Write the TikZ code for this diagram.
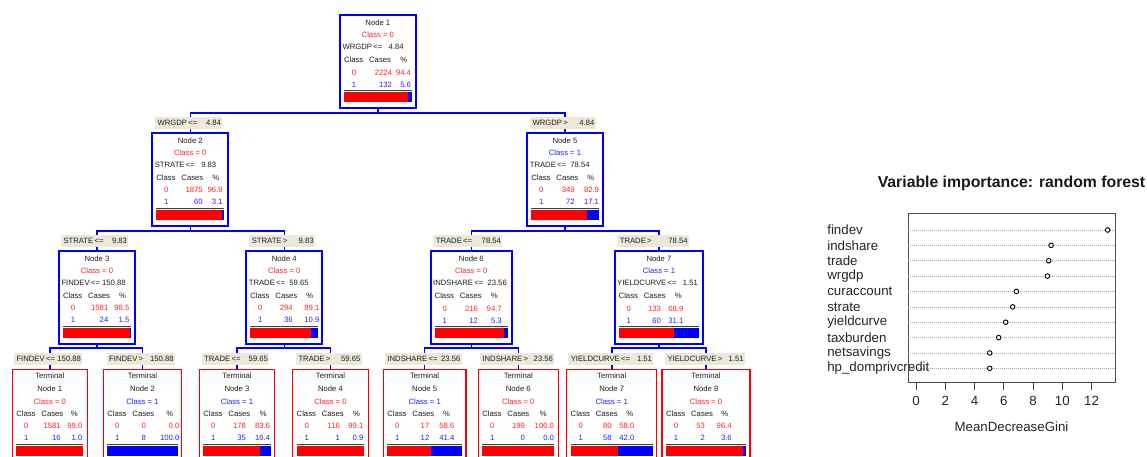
\documentclass[tikz,border=0pt]{standalone}
\usepackage{fontspec}
\setmainfont{Liberation Sans}
\usetikzlibrary{calc}
\definecolor{tred}{RGB}{255,35,35}
\definecolor{tblue}{RGB}{35,35,255}
\definecolor{lblbg}{RGB}{236,233,216}
\definecolor{ink}{RGB}{30,30,30}
\tikzset{
  tx/.style={inner sep=0pt, outer sep=0pt, font=\fontsize{7.7}{9}\selectfont, text=ink},
  ibox/.style={draw=blue, line width=1.8pt, fill=white, anchor=north west, minimum height=93pt, inner sep=0pt, outer sep=0pt},
  tbox/.style={draw=red, line width=1.2pt, fill=white, anchor=north west, minimum height=100pt, inner sep=0pt, outer sep=0pt},
  lblbox/.style={fill=lblbg, anchor=north west, minimum height=12pt, inner sep=0pt, outer sep=0pt},
  conn/.style={draw=blue, line width=1.6pt},
  sepline/.style={draw=black!75, line width=0.9pt},
  big/.style={inner sep=0pt, outer sep=0pt, font=\fontsize{13.3}{15}\selectfont, text=black!85},
  gridl/.style={draw=black!35, line width=0.5pt, dash pattern=on 0.8pt off 1.2pt},
  dotmark/.style={circle, draw=black, fill=white, line width=0.9pt, minimum size=4.6pt, inner sep=0pt},
  axisl/.style={draw=black!75, line width=0.8pt},
}
\newcommand\clsline[2]{%
  \ifnum#2=0 \def\cc{tred}\else\def\cc{tblue}\fi
  \node[tx,text=\cc] (\curnode-cls) at ([shift={(0,#1)}]\curnode.north) {Class = #2};}
\newcommand\inode[7]{%
  \node[ibox,minimum width=#4pt] (#1) at (#2,#3) {};
  \def\curnode{#1}\def\hy{45.2}%
  \node[tx] (#1-no) at ([shift={(0,7.8)}]#1.north) {Node #5};
  \clsline{19.8}{#6}%
  \node[tx,anchor=west] (#1-sp) at ([shift={(2.5,32.3)}]#1.north west) {#7};}
\newcommand\tnode[6]{%
  \node[tbox,minimum width=#4pt] (#1) at (#2,#3) {};
  \def\curnode{#1}\def\hy{44.2}%
  \node[tx] (#1-term) at ([shift={(0,6.9)}]#1.north) {Terminal};
  \node[tx] (#1-no) at ([shift={(0,19.6)}]#1.north) {Node #5};
  \clsline{32.3}{#6}}
\newcommand\ctable[8]{%
  \node[tx,anchor=west] (\curnode-hc) at ([shift={(4,\hy)}]\curnode.north west) {Class};
  \node[tx,anchor=east] (\curnode-hn) at ([shift={(51,\hy)}]\curnode.north west) {Cases};
  \node[tx,anchor=east] (\curnode-hp) at ([shift={(#3,\hy)}]\curnode.north west) {\%};
  \node[tx,text=tred] (\curnode-a0) at ([shift={(14,\hy+12.2)}]\curnode.north west) {0};
  \node[tx,text=tred,anchor=east] (\curnode-b0) at ([shift={(#1,\hy+12.2)}]\curnode.north west) {#4};
  \node[tx,text=tred,anchor=east] (\curnode-c0) at ([shift={(#2,\hy+12.2)}]\curnode.north west) {#5};
  \node[tx,text=tblue] (\curnode-a1) at ([shift={(14,\hy+24.2)}]\curnode.north west) {1};
  \node[tx,text=tblue,anchor=east] (\curnode-b1) at ([shift={(#1,\hy+24.2)}]\curnode.north west) {#6};
  \node[tx,text=tblue,anchor=east] (\curnode-c1) at ([shift={(#2,\hy+24.2)}]\curnode.north west) {#7};
  \draw[sepline] ([shift={(4,\hy+30.6)}]\curnode.north west) -- ([shift={(-4,\hy+30.6)}]\curnode.north east);
  \fill[blue] ([shift={(4,\hy+32)}]\curnode.north west) rectangle ([shift={(-4,\hy+42)}]\curnode.north east);
  \fill[red] ([shift={(4,\hy+32)}]\curnode.north west) rectangle ($([shift={(4,\hy+42)}]\curnode.north west)!#8!([shift={(-4,\hy+42)}]\curnode.north east)$);
}
\newcommand\splitlbl[6]{%
  \node[lblbox,minimum width=#4pt] (#1) at (#2,#3) {};
  \node[tx,anchor=west] (#1-v) at ([xshift=2.5pt]#1.west) {#5};
  \node[tx,anchor=east] (#1-n) at ([xshift=-1.3pt]#1.east) {#6};}
\begin{document}
\begin{tikzpicture}[x=1pt,y=-1pt]
\useasboundingbox (0,0) rectangle (1147,457);
\clip (0,0) rectangle (1147,457);
\fill[white] (0,0) rectangle (1147,457);
% ---------------- internal nodes
\inode{n1}{340}{15}{75.7}{1}{0}{WRGDP\,<=~~~4.84}
\ctable{52}{71}{67.3}{2224}{94.4}{132}{5.6}{0.944}
\inode{n2}{152.3}{132.7}{76}{2}{0}{STRATE\,<=~~~9.83}
\ctable{50.4}{70.4}{67}{1875}{96.9}{60}{3.1}{0.969}
\inode{n5}{527.3}{132.7}{75.4}{5}{1}{TRADE\,<=~~78.54}
\ctable{47.4}{71.7}{67}{349}{82.9}{72}{17.1}{0.829}
\inode{n3}{59}{250.7}{76}{3}{0}{FINDEV\,<= 150.88}
\ctable{49.3}{70.3}{67}{1581}{98.5}{24}{1.5}{0.985}
\inode{n4}{246.3}{250.7}{76}{4}{0}{TRADE\,<=~~59.65}
\ctable{46.4}{73}{67}{294}{89.1}{36}{10.9}{0.891}
\inode{n6}{430.7}{251}{81.3}{6}{0}{INDSHARE\,<=~~23.56}
\ctable{47.3}{71}{67}{216}{94.7}{12}{5.3}{0.947}
\inode{n7}{614.7}{251}{88.6}{7}{1}{YIELDCURVE\,<=~~~1.51}
\ctable{46.3}{68.6}{67}{133}{68.9}{60}{31.1}{0.689}
% ---------------- terminal nodes
\tnode{t1}{12.3}{369.3}{75}{1}{0}
\ctable{48.4}{70}{65.5}{1581}{99.0}{16}{1.0}{0.99}
\tnode{t2}{103.3}{369.3}{78.4}{2}{1}
\ctable{42.7}{76}{70}{0}{0.0}{8}{100.0}{0}
\tnode{t3}{199.3}{369.3}{75.4}{3}{1}
\ctable{46.7}{70.7}{67.4}{178}{83.6}{35}{16.4}{0.836}
\tnode{t4}{292.7}{369.3}{75.6}{4}{0}
\ctable{47.3}{70.6}{67.3}{116}{99.1}{1}{0.9}{0.991}
\tnode{t5}{383.3}{369.3}{82.7}{5}{1}
\ctable{46}{71}{66.7}{17}{58.6}{12}{41.4}{0.586}
\tnode{t6}{478.3}{369.3}{80}{6}{0}
\ctable{46.7}{75.7}{68.4}{199}{100.0}{0}{0.0}{1}
\tnode{t7}{566.7}{369.3}{90}{7}{1}
\ctable{45}{67.6}{66.6}{80}{58.0}{58}{42.0}{0.58}
\tnode{t8}{662}{369.3}{88}{8}{0}
\ctable{43}{69.7}{66.3}{53}{96.4}{2}{3.6}{0.964}
% ---------------- connectors
\coordinate (h1) at (0,113.3);
\coordinate (h2) at (0,230.7);
\coordinate (h3) at (0,348);
\draw[conn] (n1.south) -- (n1.south |- h1) -| (n2.north);
\draw[conn] (n1.south |- h1) -| (n5.north);
\draw[conn] (n2.south) -- (n2.south |- h2) -| (n3.north);
\draw[conn] (n2.south |- h2) -| (n4.north);
\draw[conn] (n5.south) -- (n5.south |- h2) -| (n6.north);
\draw[conn] (n5.south |- h2) -| (n7.north);
\draw[conn] (n3.south) -- (n3.south |- h3) -| (t1.north);
\draw[conn] (n3.south |- h3) -| (t2.north);
\draw[conn] (n4.south) -- (n4.south |- h3) -| (t3.north);
\draw[conn] (n4.south |- h3) -| (t4.north);
\draw[conn] (n6.south) -- (n6.south |- h3) -| (t5.north);
\draw[conn] (n6.south |- h3) -| (t6.north);
\draw[conn] (n7.south) -- (n7.south |- h3) -| (t7.north);
\draw[conn] (n7.south |- h3) -| (t8.north);
% ---------------- split labels
\splitlbl{l2}{155}{117.3}{67.3}{WRGDP\,<=}{4.84}
\splitlbl{l5}{530}{116.7}{65.7}{WRGDP\,>}{4.84}
\splitlbl{l3}{61}{235}{67.3}{STRATE\,<=}{9.83}
\splitlbl{l4}{249.3}{235}{65.7}{STRATE\,>}{9.83}
\splitlbl{l6}{433.3}{235}{69}{TRADE\,<=}{78.54}
\splitlbl{l7}{617.3}{235}{71.7}{TRADE\,>}{78.54}
\splitlbl{lt1}{14}{353}{68.3}{FINDEV\,<=}{150.88}
\splitlbl{lt2}{106.7}{353}{68.3}{FINDEV\,>}{150.88}
\splitlbl{lt3}{201.7}{353}{67.6}{TRADE\,<=}{59.65}
\splitlbl{lt4}{296}{353}{65.7}{TRADE\,>}{59.65}
\splitlbl{lt5}{385}{353}{76.7}{INDSHARE\,<=}{23.56}
\splitlbl{lt6}{480}{353}{74.3}{INDSHARE\,>}{23.56}
\splitlbl{lt7}{568.3}{353}{85}{YIELDCURVE\,<=}{1.51}
\splitlbl{lt8}{665}{353}{80}{YIELDCURVE\,>}{1.51}
% ---------------- variable importance chart
\node[inner sep=0pt, font=\bfseries\fontsize{15.8}{18}\selectfont, text=black!90] (title) at (1011.5,183.3) {Variable importance: random forest};
\node[draw=black!70, line width=0.9pt, minimum width=206.7pt, minimum height=169.2pt, anchor=north west, inner sep=0pt, outer sep=0pt] (plot) at (908.3,213.5) {};
\foreach \i/\nm/\v in {0/findev/13.1,1/indshare/9.23,2/trade/9.07,3/wrgdp/8.98,4/curaccount/6.86,5/strate/6.61,6/yieldcurve/6.13,7/taxburden/5.65,8/netsavings/5.04,9/hp\_domprivcredit/5.04}{
  \pgfmathsetmacro\yy{230+\i*15.37}
  \coordinate (r\i) at (1000,\yy);
  \draw[gridl] (plot.west |- r\i) -- (plot.east |- r\i);
  \node[dotmark] (d\i) at (916+\v*14.63,\yy) {};
  \node[big,anchor=west] (v\i) at (827.3,\yy) {\nm};
}
\foreach \t in {0,2,...,12}{
  \draw[axisl] (916+\t*14.63,382.7) -- (916+\t*14.63,390);
  \node[big] (tk\t) at (916+\t*14.63,401) {\t};
}
\node[big] (xlab) at (1011.5,426.7) {MeanDecreaseGini};
\end{tikzpicture}
\end{document}
